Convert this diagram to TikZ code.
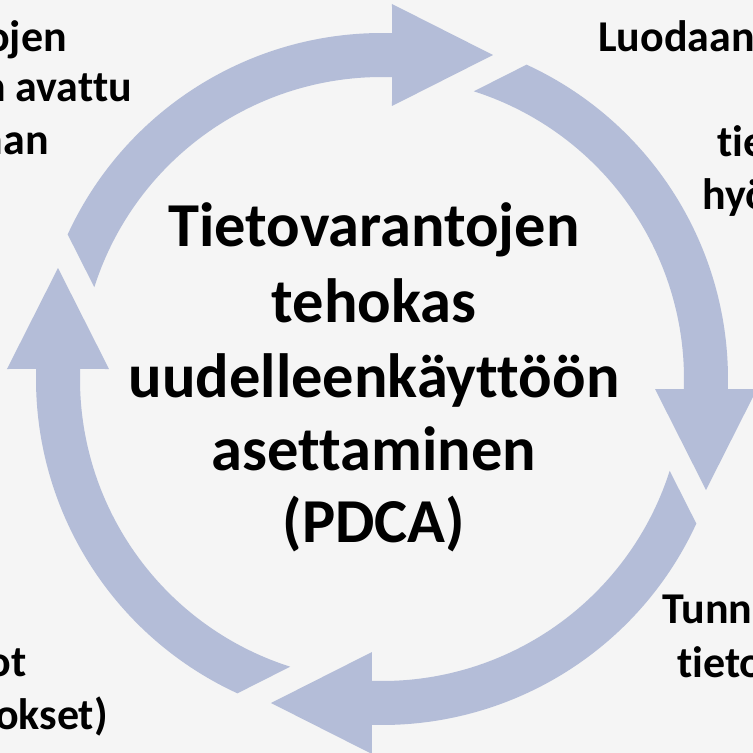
\documentclass[tikz,border=0pt]{standalone}
\usepackage{fontspec}
\setmainfont[Ligatures=NoCommon,RawFeature={-liga;-clig;-dlig;-calt}]{Carlito}
\definecolor{bg}{HTML}{F5F5F5}
\definecolor{arrowblue}{HTML}{B4BDD8}
\begin{document}
\begin{tikzpicture}[x=1pt,y=1pt,
  cyclearrow/.style={fill=arrowblue, draw=none},
  centertext/.style={font=\fontsize{62.5}{74}\selectfont\bfseries, inner sep=0pt, anchor=base},
  sidetext/.style={font=\fontsize{44}{53}\selectfont\bfseries, inner sep=0pt}]
\useasboundingbox (-382,-374) rectangle (371,379);
\clip (-382,-374) rectangle (371,379);
\fill[bg] (-382,-374) rectangle (371,379);
\foreach \r in {0,-90,-180,-270}{
  \fill[cyclearrow, rotate=\r] (155.3:346) arc[start angle=155.3,end angle=88.34,radius=346]
    -- (10,375) -- (111,324) -- (10,273) -- (88.10:302)
    arc[start angle=88.10,end angle=162.3,radius=302] -- cycle;
}
% centre text
\node[centertext] (c1) at (-8,132) {Tietovarantojen};
\node[centertext] (c2) at (-8,57) {tehokas};
\node[centertext] (c3) at (-8,-18) {uudelleenkäyttöön};
\node[centertext] (c4) at (-8,-91) {asettaminen};
\node[centertext] (c5) at (-8,-163) {(PDCA)};
% corner fragments
\node[sidetext, anchor=base east] (tl1) at (-315,327) {ojen};
\node[sidetext, anchor=base east] (tl2) at (-250,277) {n avattu};
\node[sidetext, anchor=base east] (tl3) at (-333,224) {nan};
\node[sidetext, anchor=base west] (tr1) at (216,327) {Luodaan};
\node[sidetext, anchor=base west] (tr2) at (335,222) {tie};
\node[sidetext, anchor=base west] (tr3) at (320,169) {hyö};
\node[sidetext, anchor=base west] (br1) at (280,-244) {Tunn};
\node[sidetext, anchor=base west] (br2) at (295,-298) {tieto};
\node[sidetext, anchor=base east] (bl1) at (-355,-297) {ot};
\node[sidetext, anchor=base east] (bl2) at (-274,-350) {okset)};
\end{tikzpicture}
\end{document}
